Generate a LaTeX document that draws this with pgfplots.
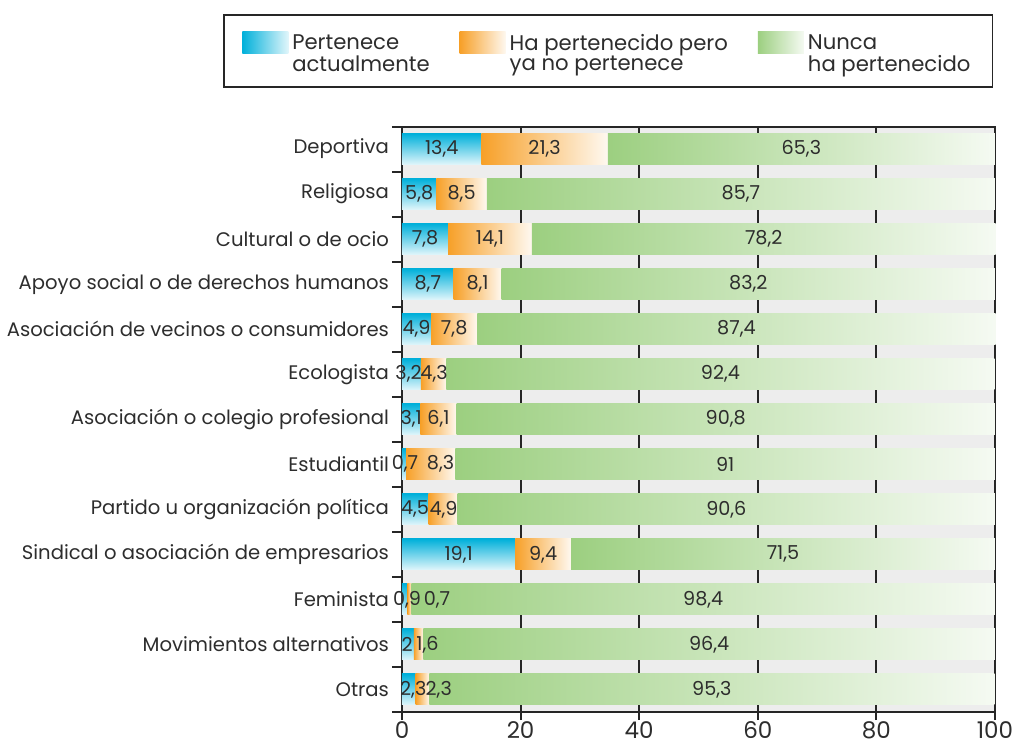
\documentclass[border=0pt]{standalone}
\usepackage{pgfplots}
\pgfplotsset{compat=1.18}
\usepackage{pgfplotstable}
\usepackage{fontspec}
\setmainfont{Poppins}

\definecolor{blueC}{RGB}{0,176,218}
\definecolor{orangeC}{RGB}{247,160,40}
\definecolor{greenC}{RGB}{156,207,128}
\definecolor{txt}{RGB}{45,45,45}
\definecolor{bg}{RGB}{237,237,237}

% empty mark: the scatter code draws the bar segment itself
\pgfdeclareplotmark{nothing}{}

% membership shares (%) per type of association
% pa, pb: where the first two value labels sit (moved apart when the segments are thin)
\pgfplotstableread[col sep=comma]{
cat,a,b,c,pa,pb
0,13.4,21.3,65.3,6.7,24.05
1,5.8,8.5,85.7,2.9,10.05
2,7.8,14.1,78.2,3.9,14.85
3,8.7,8.1,83.2,4.35,12.75
4,4.9,7.8,87.4,2.45,8.8
5,3.2,4.3,92.4,1.1,5.4
6,3.1,6.1,90.8,1.55,6.15
7,0.7,8.3,91,0.5,6.5
8,4.5,4.9,90.6,2.2,7.0
9,19.1,9.4,71.5,9.55,23.8
10,0.9,0.7,98.4,0.85,5.9
11,2,1.6,96.4,0.85,4.3
12,2.3,2.3,95.3,1.9,6.2
}\datatable

% one x unit = 296.5pt/100
\newcommand{\ux}{2.965pt}

\pgfplotsset{
    seg/.style={only marks, mark=nothing, scatter,
        scatter/@post marker code/.code={}},
    lab/.style={only marks, mark=nothing, point meta=explicit,
        nodes near coords={\pgfmathprintnumber[fixed,precision=1,use comma]{\pgfplotspointmeta}},
        every node near coord/.append style={anchor=center, font=\fontsize{9.6}{11}\selectfont, text=txt}},
}

\begin{document}
\begin{tikzpicture}
\begin{axis}[
    scale only axis,
    width=296.5pt, height=292.75pt,
    clip=false,
    xmin=0, xmax=100,
    ymin=-0.5, ymax=12.5,
    y dir=reverse,
    ytick={0,...,12},
    yticklabels={Deportiva,Religiosa,Cultural o de ocio,Apoyo social o de derechos humanos,Asociación de vecinos o consumidores,Ecologista,Asociación o colegio profesional,Estudiantil,Partido u organización política,Sindical o asociación de empresarios,Feminista,Movimientos alternativos,Otras},
    minor ytick={-0.5,0.5,...,12.5},
    xtick={0,20,...,100},
    tick pos=left,
    tick align=outside,
    major tick length=4pt,
    minor tick length=5pt,
    every major y tick/.append style={draw=none},
    tick style={black!85, line width=1pt},
    axis line style={black!85, line width=1pt},
    xmajorgrids,
    grid style={black!85, line width=1pt},
    axis background/.style={fill=bg},
    yticklabel style={font=\fontsize{9.8}{11}\selectfont, text=txt, xshift=1pt},
    xticklabel style={font=\fontsize{11.5}{13}\selectfont, text=txt, inner ysep=0.5pt},
    /pgf/number format/assume math mode=true,
    legend style={at={(0.348,1.1921)}, anchor=north, legend columns=3,
        draw=black!85, line width=0.8pt, text=txt,
        font=\fontsize{10.6}{10}\selectfont,
        inner xsep=9pt, inner ysep=4.25pt,
        /tikz/every even column/.append style={column sep=13pt}},
    legend cell align=left,
]
% bar segments, each end placed at its cumulative value
\addplot[seg, visualization depends on={\thisrow{a} \as \val},
    scatter/@pre marker code/.code={\shade[draw=none, top color=blueC, middle color=blueC!92!white, bottom color=blueC!12!white] ({-\val*\ux},-7.75pt) rectangle (0pt,7.75pt);},
    legend image code/.code={\shade[draw=none, left color=blueC, right color=blueC!12!white] (-3pt,-1.5pt) rectangle (20pt,9.5pt);}]
    table[x=a, y=cat] {\datatable};
\addplot[seg, visualization depends on={\thisrow{b} \as \val},
    scatter/@pre marker code/.code={\shade[draw=none, left color=orangeC, right color=orangeC!7!white] ({-\val*\ux},-7.75pt) rectangle (0pt,7.75pt);},
    legend image code/.code={\shade[draw=none, left color=orangeC, right color=orangeC!7!white] (-3pt,-1.5pt) rectangle (20pt,9.5pt);}]
    table[x expr=\thisrow{a}+\thisrow{b}, y=cat] {\datatable};
\addplot[seg, visualization depends on={\thisrow{c} \as \val},
    scatter/@pre marker code/.code={\shade[draw=none, left color=greenC, right color=greenC!10!white] ({-\val*\ux},-7.75pt) rectangle (0pt,7.75pt);},
    legend image code/.code={\shade[draw=none, left color=greenC, right color=greenC!10!white] (-3pt,-1.5pt) rectangle (20pt,9.5pt);}]
    table[x expr=\thisrow{a}+\thisrow{b}+\thisrow{c}, y=cat] {\datatable};
\addlegendentry{\begin{tabular}[b]{@{}l@{}}\rule{0pt}{11pt}Pertenece\\actualmente\end{tabular}}
\addlegendentry{\begin{tabular}[b]{@{}l@{}}\rule{0pt}{11pt}Ha pertenecido pero\\ya no pertenece\end{tabular}}
\addlegendentry{\begin{tabular}[b]{@{}l@{}}\rule{0pt}{11pt}Nunca\\ha pertenecido\end{tabular}}
% value labels
\addplot[lab, forget plot] table[x=pa, y=cat, meta=a] {\datatable};
\addplot[lab, forget plot] table[x=pb, y=cat, meta=b] {\datatable};
\addplot[lab, forget plot] table[x expr=\thisrow{a}+\thisrow{b}+\thisrow{c}/2, y=cat, meta=c] {\datatable};
\end{axis}
% frame the page as in the reference: margins measured from the axis box
\pgfresetboundingbox
\path ([shift={(-201pt,-16pt)}]current axis.south west) rectangle ([shift={(11.5pt,63.25pt)}]current axis.north east);
\end{tikzpicture}
\end{document}
